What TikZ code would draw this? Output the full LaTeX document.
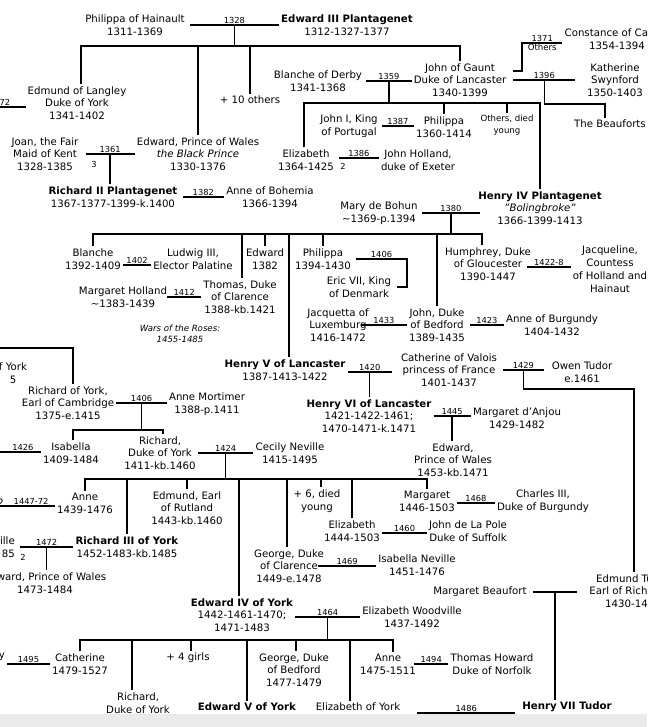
\documentclass[tikz,border=0pt]{standalone}
\usepackage{fontspec}
\setmainfont{DejaVu Sans}
\usetikzlibrary{positioning}
\definecolor{Ink}{HTML}{000000}
\definecolor{Strip}{HTML}{EAEAEA}
\newcommand\nfont{\fontsize{10.2}{12.8}\selectfont}
\newcommand\yfont{\fontsize{8.3}{8.5}\selectfont}
\newcommand\sfont{\fontsize{8.6}{11.4}\selectfont}
\tikzset{
  pers/.style={align=center,inner sep=2pt,font=\nfont,text=Ink},
  note/.style={pers,font=\sfont},
  yr/.style={font=\yfont,inner sep=.4pt,above,midway,text=Ink},
  cnt/.style={font=\yfont,inner sep=0pt,text=Ink},
  wed/.style={line width=1.4pt,draw=Ink},
  desc/.style={line width=1.4pt,draw=Ink}
}

\begin{document}
\begin{tikzpicture}[x=1pt,y=-1pt]
  \useasboundingbox (0,0) rectangle (647,727);
  \clip (0,0) rectangle (647,727);
  % Edward III
  \node[pers] (phil) at (135,25) {Philippa of Hainault\\1311-1369};
  \node[pers] (ed3) at (347,25) {\textbf{Edward III Plantagenet}\\1312-1327-1377};
  \draw[wed] ([xshift=3pt]phil.east) -- node[yr]{1328} coordinate[midway] (m1328) (phil.east -| ed3.west);
  \coordinate (k1328) at (235,46);
  \node[pers] (edmund) at (77,103) {Edmund of Langley\\Duke of York\\1341-1402};
  \node[pers] (bprince) at (198,154) {Edward, Prince of Wales\\\textit{the Black Prince}\\1330-1376};
  \node[pers] (oth10) at (250,100) {+ 10 others};
  \node[pers] (gaunt) at (460,80) {John of Gaunt\\Duke of Lancaster\\1340-1399};
  \draw[desc] (m1328) -- (m1328 |- k1328);
  \draw[desc] ([xshift=4pt]edmund.north) |- (k1328 -| gaunt.north) -- (gaunt.north);
  \draw[desc] (bprince.north) -- (bprince.north |- k1328);
  \draw[desc] (oth10.north) -- (oth10.north |- k1328);
  \coordinate (w1372) at (-2,107);
  \draw[wed] (w1372) -- node[yr,pos=.25]{72} ([yshift=-4pt]edmund.west);

  % John of Gaunt
  \node[pers] (blanche) at (318,81) {Blanche of Derby\\1341-1368};
  \draw[wed] ([xshift=2pt]blanche.east) -- node[yr]{1359} coordinate[midway] (m1359) (blanche.east -| gaunt.west);
  \node[pers] (const) at (617,39) {Constance of Castile\\1354-1394};
  \coordinate (c1371) at (522,43);
  \draw[wed] ([xshift=5pt,yshift=9pt]gaunt.east) -| (c1371) -- node[yr]{1371} node[yr,below,font=\sfont]{Others} (c1371 -| const.west);
  \node[pers] (kath) at (615,80) {Katherine\\Swynford\\1350-1403};
  \draw[wed] ([xshift=5pt]gaunt.east) -- node[yr]{1396} coordinate[midway] (m1396) ([xshift=-10pt]gaunt.east -| kath.west);
  \node[pers] (beauf) at (610,124) {The Beauforts};
  \coordinate (k1396) at (605,104);
  \draw[desc] (m1396) |- (k1396) -- (k1396 |- beauf.north);
  \node[pers] (eliz1) at (306,160) {Elizabeth\\1364-1425};
  \node[pers] (johnI) at (349,126) {John I, King\\of Portugal};
  \node[pers] (philP) at (444,127) {Philippa\\1360-1414};
  \node[note] (othdy) at (507,125) {Others, died\\young};
  \node[pers] (henry4) at (540,208) {\textbf{Henry IV Plantagenet}\\\textit{"Bolingbroke"}\\1366-1399-1413};
  \node[pers] (jholl) at (418,160) {John Holland,\\duke of Exeter};
  \coordinate (k1359) at (388,103);
  \draw[desc] (m1359) -- (m1359 |- k1359);
  \draw[desc] ([xshift=-2pt]eliz1.north) |- (k1359 -| henry4.north) -- (henry4.north);
  \draw[desc] (philP.north) -- (philP.north |- k1359);
  \draw[desc] (othdy.north) -- (othdy.north |- k1359);
  \draw[wed] ([xshift=2pt]johnI.east) -- node[yr]{1387} (johnI.east -| philP.west);
  \draw[wed] ([xshift=3pt,yshift=2pt]eliz1.east) -- node[yr]{1386} ([yshift=2pt]eliz1.east -| jholl.west);
  \node[cnt] (n2a) at (343,166) {2};

  % Black Prince
  \node[pers] (joan) at (45,154) {Joan, the Fair\\Maid of Kent\\1328-1385};
  \draw[wed] ([xshift=5pt]joan.east) -- node[yr]{1361} coordinate[midway] (m1361) (joan.east -| bprince.west);
  \node[cnt] (n3) at (94,164) {3};
  \node[pers] (rich2) at (113,197) {\textbf{Richard II Plantagenet}\\1367-1377-1399-k.1400};
  \draw[desc] (m1361) -- (m1361 |- rich2.north);
  \node[pers] (anneB) at (270,197) {Anne of Bohemia\\1366-1394};
  \draw[wed] ([xshift=3pt]rich2.east) -- node[yr]{1382} (rich2.east -| anneB.west);

  % Henry IV
  \node[pers] (mbohun) at (379,213) {Mary de Bohun\\\textasciitilde1369-p.1394};
  \draw[wed] ([xshift=2pt]mbohun.east) -- node[yr]{1380} coordinate[midway] (m1380) ([xshift=4pt]mbohun.east -| henry4.west);
  \coordinate (k1380) at (452,234);
  \node[pers] (blanc2) at (93,259) {Blanche\\1392-1409};
  \node[pers] (ludwig) at (193,259) {Ludwig III,\\Elector Palatine};
  \node[pers] (edw82) at (265,259) {Edward\\1382};
  \node[pers] (philD) at (323,259) {Philippa\\1394-1430};
  \node[pers] (eric) at (359,287) {Eric VII, King\\of Denmark};
  \node[pers] (humph) at (488,264) {Humphrey, Duke\\of Gloucester\\1390-1447};
  \node[pers] (jacq) at (610,269) {Jacqueline,\\Countess\\of Holland and\\Hainaut};
  \node[pers] (mholl) at (123,297) {Margaret Holland\\\textasciitilde1383-1439};
  \node[pers] (thomas) at (240,297) {Thomas, Duke\\of Clarence\\1388-kb.1421};
  \node[note] (wars) at (180,334) {\textit{Wars of the Roses:}\\\textit{1455-1485}};
  \node[pers] (jacqL) at (338,325) {Jacquetta of\\Luxemburg\\1416-1472};
  \node[pers] (bedford) at (437,325) {John, Duke\\of Bedford\\1389-1435};
  \node[pers] (anneBg) at (552,325) {Anne of Burgundy\\1404-1432};
  \node[pers] (henry5) at (285,370) {\textbf{Henry V of Lancaster}\\1387-1413-1422};
  \draw[desc] (m1380) -- (m1380 |- k1380);
  \draw[desc] (blanc2.north) |- ([xshift=-6pt]k1380 -| humph.north) -- ([xshift=-6pt]humph.north);
  \draw[desc] (edw82.north) -- (edw82.north |- k1380);
  \draw[desc] ([xshift=2pt]thomas.north) -- ([xshift=2pt]thomas.north |- k1380);
  \draw[desc] ([xshift=4pt]henry5.north) -- ([xshift=4pt]henry5.north |- k1380);
  \draw[desc] (philD.north) -- (philD.north |- k1380);
  \draw[desc] (bedford.north) -- (bedford.north |- k1380);
  \draw[wed] ([yshift=-6pt]blanc2.east) -- node[yr]{1402} ([yshift=-6pt]blanc2.east -| ludwig.west);
  \coordinate (c1406) at (407,258);
  \draw[wed] ([xshift=3pt]philD.east) -- node[yr]{1406} (philD.east -| c1406) |- ([xshift=4pt]eric.east);
  \draw[wed] ([xshift=-6pt,yshift=-3pt]humph.east) -- node[yr]{1422-8} ([yshift=-3pt]humph.east -| jacq.west);
  \draw[wed] ([xshift=-2pt]mholl.east) -- node[yr]{1412} (mholl.east -| thomas.west);
  \draw[wed] ([xshift=-10pt]jacqL.east) -- node[yr]{1433} (jacqL.east -| bedford.west);
  \draw[wed] ([xshift=3pt]bedford.east) -- node[yr]{1423} (bedford.east -| anneBg.west);

  % Henry V and Catherine
  \node[pers] (cath) at (449,370) {Catherine of Valois\\princess of France\\1401-1437};
  \node[pers] (owen) at (582,372) {Owen Tudor\\e.1461};
  \draw[wed] ([yshift=-2pt]henry5.east) -- node[yr]{1420} coordinate[midway] (m1420) ([xshift=-7pt,yshift=-2pt]henry5.east -| cath.west);
  \draw[wed] ([xshift=4pt]cath.east) -- node[yr]{1429} coordinate[midway] (m1429) ([xshift=-6pt]cath.east -| owen.west);
  \node[pers] (etudor) at (633,591) {Edmund Tudor\\Earl of Richmond\\1430-1456};
  \coordinate (k1429) at (634,389);
  \draw[desc] (m1429) |- (k1429) -- (k1429 |- etudor.north);
  \node[pers] (henry6) at (369,416) {\textbf{Henry VI of Lancaster}\\1421-1422-1461;\\1470-1471-k.1471};
  \draw[desc] (m1420) -- (m1420 |- henry6.north);
  \node[pers] (mAnjou) at (517,418) {Margaret d'Anjou\\1429-1482};
  \draw[wed] (henry6.east) -- node[yr]{1445} coordinate[midway] (m1445) (henry6.east -| mAnjou.west);
  \node[pers] (edwPW) at (453,460) {Edward,\\Prince of Wales\\1453-kb.1471};
  \draw[desc] (m1445) -- (m1445 |- edwPW.north);

  % House of York
  \node[pers] (fyork) at (13,373) {f York\\5};
  \node[pers] (rcamb) at (68,403) {Richard of York,\\Earl of Cambridge\\1375-e.1415};
  \coordinate (w348) at (-2,348);
  \draw[desc] (w348) -| ([xshift=5pt]rcamb.north);
  \node[pers] (amort) at (207,404) {Anne Mortimer\\1388-p.1411};
  \draw[wed] (rcamb.east) -- node[yr]{1406} coordinate[midway] (m1406) (rcamb.east -| amort.west);
  \coordinate (k1406) at (144,430);
  \node[pers] (isab) at (71,453) {Isabella\\1409-1484};
  \node[pers] (richY) at (160,453) {Richard,\\Duke of York\\1411-kb.1460};
  \draw[desc] (m1406) -- (m1406 |- k1406);
  \draw[desc] ([xshift=2pt]isab.north) |- ([xshift=3pt]k1406 -| richY.north) -- ([xshift=3pt]richY.north);
  \coordinate (w1426) at (-2,452);
  \draw[wed] (w1426) -- node[yr,pos=.58]{1426} (w1426 -| isab.west);
  \node[pers] (cecily) at (290,453) {Cecily Neville\\1415-1495};
  \draw[wed] (richY.east) -- node[yr]{1424} coordinate[midway] (m1424) (richY.east -| cecily.west);
  \coordinate (k1424) at (228,479);
  \node[pers] (anneY) at (85,503) {Anne\\1439-1476};
  \node[pers] (rutl) at (187,508) {Edmund, Earl\\of Rutland\\1443-kb.1460};
  \node[pers] (rich3) at (127,547) {\textbf{Richard III of York}\\1452-1483-kb.1485};
  \node[pers] (six) at (317,501) {+ 6, died\\young};
  \node[pers] (georgeC) at (289,566) {George, Duke\\of Clarence\\1449-e.1478};
  \node[pers] (elizY) at (352,531) {Elizabeth\\1444-1503};
  \node[pers] (margY) at (427,501) {Margaret\\1446-1503};
  \node[pers] (edw4) at (242,615) {\textbf{Edward IV of York}\\1442-1461-1470;\\1471-1483};
  \draw[desc] (m1424) -- (m1424 |- k1424);
  \draw[desc] (anneY.north) |- (k1424 -| margY.north) -- (margY.north);
  \draw[desc] (rich3.north) -- (rich3.north |- k1424);
  \draw[desc] (rutl.north) -- (rutl.north |- k1424);
  \draw[desc] ([xshift=-3pt]edw4.north) -- ([xshift=-3pt]edw4.north |- k1424);
  \draw[desc] ([xshift=-2pt]georgeC.north) -- ([xshift=-2pt]georgeC.north |- k1424);
  \draw[desc] ([xshift=4pt]six.north) -- ([xshift=4pt]six.north |- k1424);
  \draw[desc] (elizY.north) -- (elizY.north |- k1424);
  \node[pers,anchor=east] (frag2) at (6,503) {2};
  \coordinate (w1447) at (-2,506);
  \draw[wed] (w1447) -- node[yr,pos=.58]{1447-72} (w1447 -| anneY.west);
  \node[pers,anchor=east,align=right] (anev) at (17,547) {ille\\85};
  \draw[wed] ([xshift=3pt]anev.east) -- node[yr]{1472} coordinate[midway] (m1472) (anev.east -| rich3.west);
  \node[cnt] (n2b) at (23,557) {2};
  \node[pers] (epw) at (45,583) {Edward, Prince of Wales\\1473-1484};
  \draw[desc] (m1472) -- (m1472 |- epw.north);
  \node[pers] (isabN) at (417,565) {Isabella Neville\\1451-1476};
  \draw[wed] ([xshift=-8pt]georgeC.east) -- node[yr]{1469} (georgeC.east -| isabN.west);
  \node[pers] (jpole) at (468,531) {John de La Pole\\Duke of Suffolk};
  \draw[wed] ([yshift=-2pt]elizY.east) -- node[yr]{1460} ([yshift=-2pt]elizY.east -| jpole.west);
  \node[pers] (charles) at (543,501) {Charles III,\\Duke of Burgundy};
  \draw[wed] ([yshift=-2pt]margY.east) -- node[yr]{1468} ([yshift=-2pt]margY.east -| charles.west);

  % Edward IV and Henry VII
  \node[pers] (ewood) at (412,617) {Elizabeth Woodville\\1437-1492};
  \draw[wed] (edw4.east |- ewood.west) -- node[yr]{1464} coordinate[midway] (m1464) (ewood.west);
  \coordinate (k1464) at (329,640);
  \node[pers] (cathE) at (80,664) {Catherine\\1479-1527};
  \node[pers] (girls) at (188,658) {+ 4 girls};
  \node[pers] (richDY) at (138,703) {Richard,\\Duke of York};
  \node[pers] (edw5) at (247,707) {\textbf{Edward V of York}};
  \node[pers] (georgeB) at (294,670) {George, Duke\\of Bedford\\1477-1479};
  \node[pers] (elizYork) at (358,707) {Elizabeth of York};
  \node[pers] (anneE) at (388,664) {Anne\\1475-1511};
  \draw[desc] (m1464) -- (m1464 |- k1464);
  \draw[desc] (cathE.north) |- ([xshift=5pt]k1464 -| anneE.north) -- ([xshift=5pt]anneE.north);
  \draw[desc] ([xshift=-6pt]richDY.north) -- ([xshift=-6pt]richDY.north |- k1464);
  \draw[desc] ([xshift=3pt]girls.north) -- ([xshift=3pt]girls.north |- k1464);
  \draw[desc] (edw5.north) -- (edw5.north |- k1464);
  \draw[desc] ([xshift=2pt]georgeB.north) -- ([xshift=2pt]georgeB.north |- k1464);
  \draw[desc] ([xshift=-8pt]elizYork.north) -- ([xshift=-8pt]elizYork.north |- k1464);
  \node[pers,anchor=east] (fragy) at (7,657) {y};
  \draw[wed] (fragy.east |- cathE.west) -- node[yr]{1495} (cathE.west);
  \node[pers] (thoward) at (492,664) {Thomas Howard\\Duke of Norfolk};
  \draw[wed] ([xshift=-4pt]anneE.east) -- node[yr]{1494} (anneE.east -| thoward.west);
  \node[pers] (mbeau) at (480,592) {Margaret Beaufort};
  \node[pers] (henry7) at (567,707) {\textbf{Henry VII Tudor}};
  \draw[wed] ([xshift=4pt]mbeau.east) -- coordinate[midway] (mmb) ([xshift=-10pt]mbeau.east -| etudor.west);
  \draw[desc] (mmb) -- (mmb |- henry7.north);
  \draw[wed] ([xshift=15pt,yshift=-6pt]elizYork.east) -- node[yr]{1486} coordinate[midway] (m1486) ([xshift=-5pt,yshift=-6pt]elizYork.east -| henry7.west);
  \draw[desc] (m1486) -- ++(0,5);
  \fill[Strip] (0,714) rectangle (647,727);
\end{tikzpicture}
\end{document}
